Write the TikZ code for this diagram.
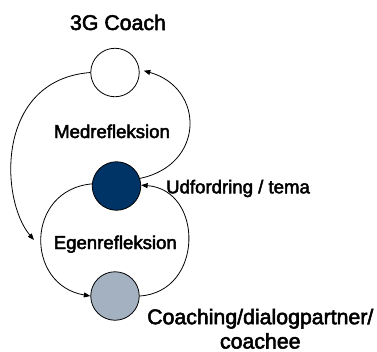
\documentclass[tikz,border=0pt]{standalone}
\usepackage{fontspec}
\setmainfont{Liberation Sans}
\newfontfamily\heavysans[FakeBold=2.5]{Liberation Sans}
\usetikzlibrary{arrows.meta}
\definecolor{navy}{RGB}{0,51,102}
\definecolor{slate}{RGB}{164,177,193}
\begin{document}
\begin{tikzpicture}[x=1bp,y=-1bp,
  dot/.style={circle,draw=black,line width=0.8bp,minimum size=48.5bp,inner sep=0pt},
  lbl/.style={inner sep=0pt,font=\heavysans\fontsize{18.6bp}{22bp}\selectfont},
  biglbl/.style={inner sep=0pt,align=center,font=\heavysans\fontsize{21.3bp}{24.3bp}\selectfont},
  flow/.style={line width=0.8bp,-{Triangle[length=6.5bp,width=5bp]}}]
\useasboundingbox (0,0) rectangle (377,352);

% the three positions
\node[dot,fill=white] (coach)   at (115,72.5) {};
\node[dot,fill=navy]  (topic)   at (116.5,186) {};
\node[dot,fill=slate] (coachee) at (115,296) {};

% labels (base anchor of a multi-line node sits on its last line)
\node[biglbl,anchor=base] (title) at (118,30) {3G Coach};
\node[lbl,anchor=base] (med) at (112,138) {Medrefleksion};
\node[lbl,anchor=base] (egen) at (115.3,249) {Egenrefleksion};
\node[lbl,anchor=base west] (udf) at (166,193.3) {Udfordring / tema};
\node[biglbl,anchor=base] (who) at (260.3,348.5) {Coaching/dialogpartner/\\coachee};

% free end of the outer arrow
\coordinate (egenin) at (34,240);

% outer loop: Medrefleksion
\draw[flow,shorten >=4.5bp] (topic.18) .. controls (205,165) and (205,88) .. (coach.7);
\draw[flow] (coach.west) .. controls (-5,80) and (0,200) .. (egenin);

% inner loop: Egenrefleksion
\draw[flow] (topic.175) .. controls (25,190) and (25,285) .. (coachee.west);
\draw[flow] (coachee.east) .. controls (204,292) and (204,190) .. (topic.2);
\end{tikzpicture}
\end{document}
